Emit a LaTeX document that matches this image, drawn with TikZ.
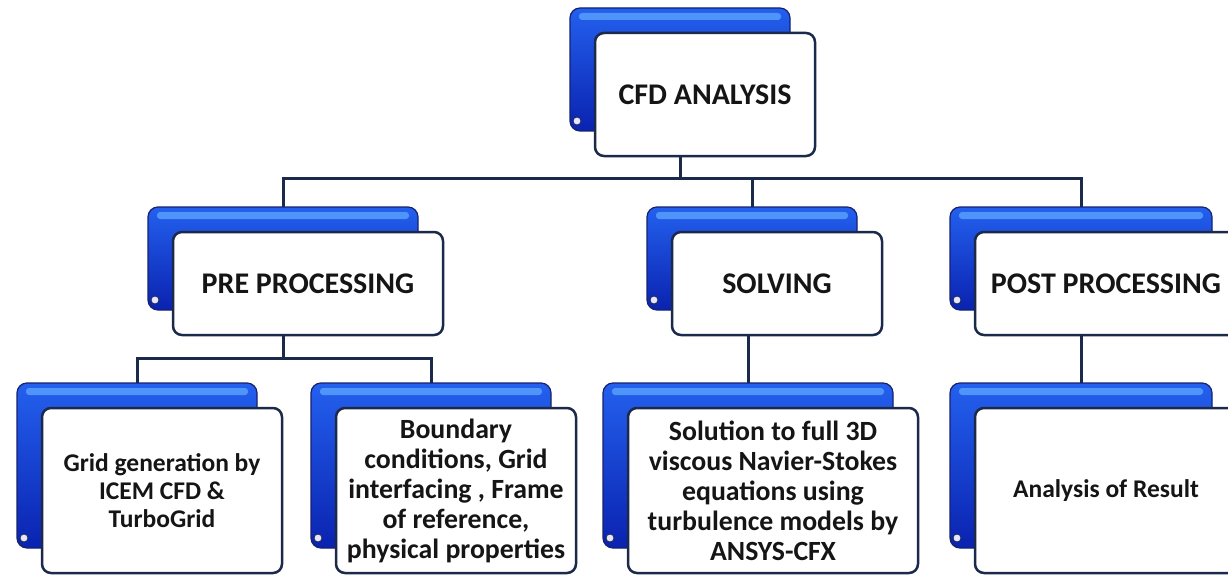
\documentclass[tikz,border=0pt]{standalone}
\usepackage{fontspec}
\setmainfont{Carlito}
\definecolor{navy}{HTML}{1B2A4A}
\definecolor{bluetop}{HTML}{2460EE}
\definecolor{bluebot}{HTML}{0A22B0}
\definecolor{bluehi}{HTML}{5FA8FF}
\definecolor{txt}{HTML}{151515}
\newcommand{\headfont}{\fontsize{30}{34}\selectfont\bfseries}
\newcommand{\bodyfont}{\fontsize{25.5}{28}\selectfont\bfseries}
\newcommand{\bigbodyfont}{\fontsize{27.8}{30}\selectfont\bfseries}
\tikzset{
  backbox/.style={rounded corners=10pt, draw=navy!80!blue, line width=1.2pt,
    top color=bluetop, bottom color=bluebot, outer sep=0pt, inner sep=0pt,
    path picture={
      \fill[bluehi, opacity=0.75, rounded corners=3pt]
        ([xshift=9pt,yshift=-5pt]path picture bounding box.north west) rectangle
        ([xshift=-9pt,yshift=-12pt]path picture bounding box.north east);
      \fill[blue!10!white, draw=navy, line width=0.8pt]
        ([xshift=7pt,yshift=10pt]path picture bounding box.south west) circle (4pt);
    }},
  frontbox/.style={rounded corners=9pt, draw=navy, line width=2.5pt, fill=white,
    outer sep=0pt, inner sep=2pt, align=center, text=txt},
  conn/.style={draw=navy, line width=3pt},
}
% name, cx, cy, w, h, font, text
\newcommand{\cardnode}[7]{%
  \node[backbox, minimum width=#4pt, minimum height=#5pt] (#1b) at ({#2-25},{#3-25}) {};
  \node[frontbox, font=#6, minimum width=#4pt, minimum height=#5pt] (#1) at (#2,#3) {#7};
}
\begin{document}
\begin{tikzpicture}[x=1pt,y=-1pt]
\useasboundingbox[fill=white] (0,0) rectangle (1228,575);
\coordinate (bus1) at (0,178);
\coordinate (bus2) at (0,358);
\cardnode{top}{705}{94.5}{220}{123}{\headfont}{CFD ANALYSIS}
\cardnode{pre}{308}{283.5}{270}{103}{\headfont}{PRE PROCESSING}
\cardnode{sol}{777}{283.5}{210}{103}{\headfont}{SOLVING}
\cardnode{post}{1106}{283.5}{262}{103}{\headfont}{POST PROCESSING}
\cardnode{grid}{162}{490.5}{240}{165}{\bodyfont}{Grid generation by\\ICEM CFD \&\\TurboGrid}
\cardnode{bound}{456}{490.5}{240}{165}{\bigbodyfont}{Boundary\\conditions, Grid\\interfacing , Frame\\of reference,\\physical properties}
\cardnode{solu}{773}{490.5}{290}{165}{\bigbodyfont}{Solution to full 3D\\viscous Navier-Stokes\\equations using\\turbulence models by\\ANSYS-CFX}
\cardnode{ana}{1106}{490.5}{262}{165}{\bodyfont}{Analysis of Result}
\draw[conn] (topb |- top.south) -- (topb |- bus1) -| (preb.north);
\draw[conn] (topb |- bus1) -| (solb.north);
\draw[conn] (topb |- bus1) -| (postb.north);
\draw[conn] (preb |- pre.south) -- (preb |- bus2) -| (gridb.north);
\draw[conn] (preb |- bus2) -| (boundb.north);
\draw[conn] (solub |- sol.south) -- (solub.north);
\draw[conn] (anab |- post.south) -- (anab.north);
\end{tikzpicture}
\end{document}
